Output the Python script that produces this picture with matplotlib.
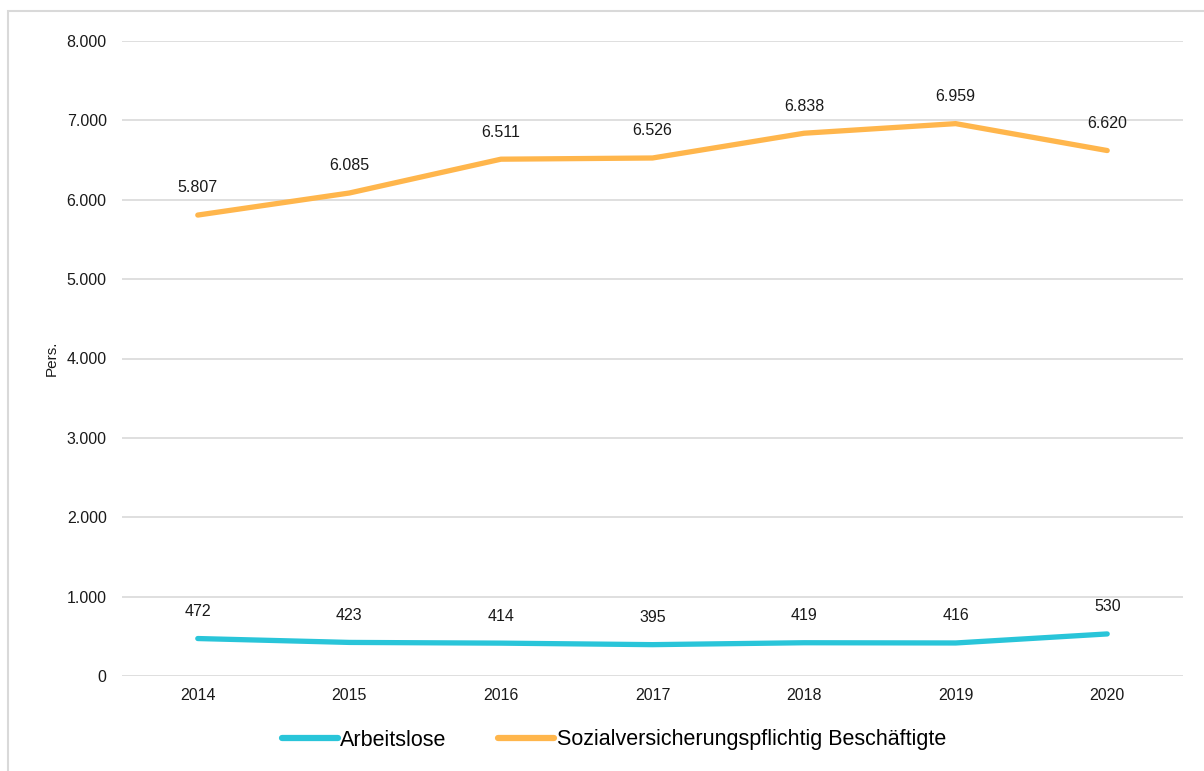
import matplotlib
matplotlib.use("Agg")
import matplotlib.pyplot as plt
from matplotlib.patches import Rectangle
from matplotlib.ticker import FuncFormatter

plt.rcParams['font.family'] = ['Liberation Sans', 'DejaVu Sans']

years = ["2014", "2015", "2016", "2017", "2018", "2019", "2020"]
arbeitslose = [472, 423, 414, 395, 419, 416, 530]
beschaeftigte = [5807, 6085, 6511, 6526, 6838, 6959, 6620]
series_names = ["Arbeitslose", "Sozialversicherungspflichtig Beschäftigte"]
colors = ["#29C5D9", "#FFB64C"]
y_ticks = [0, 1000, 2000, 3000, 4000, 5000, 6000, 7000, 8000]


def fmt(v):
    return f"{int(v):,}".replace(",", ".")


fig = plt.figure(figsize=(12.04, 7.71), dpi=100)
ax = fig.add_axes([122/1204, 1-676/771, (1183-122)/1204, (676-41)/771])

x = list(range(len(years)))
for vals, name, col in zip([arbeitslose, beschaeftigte], series_names, colors):
    ax.plot(x, vals, color=col, lw=3.8, solid_capstyle='round', label=name, zorder=3)
    for xi, v in zip(x, vals):
        ax.annotate(fmt(v), (xi, v), xytext=(0, 19.5), textcoords='offset points',
                    ha='center', va='center', fontsize=11.5, color='#1a1a1a')

ax.set_xlim(-0.5, len(years) - 0.5)
ax.set_ylim(0, 8000)
ax.set_yticks(y_ticks)
ax.yaxis.set_major_formatter(FuncFormatter(lambda v, p: fmt(v)))
ax.set_xticks(x)
ax.set_xticklabels(years)
ax.tick_params(axis='both', length=0, labelsize=11.5, colors='#1a1a1a')
ax.tick_params(axis='y', pad=11)
ax.tick_params(axis='x', pad=9)
ax.grid(axis='y', color='#D9D9D9', lw=1.2)
ax.set_axisbelow(True)
for s in ax.spines.values():
    s.set_visible(False)

fig.text(52/1204, 1-358/771, "Pers.", rotation=90, ha='center', va='center',
         fontsize=11, color='#1a1a1a')

leg = fig.legend(loc='center', bbox_to_anchor=(614/1204, 1-740/771), ncol=2,
                 frameon=False, fontsize=15.5, handlelength=2.6, columnspacing=2.4,
                 handletextpad=0.1)
for line in leg.get_lines():
    line.set_linewidth(4.5)
    line.set_solid_capstyle('round')

fig.patches.append(Rectangle((8/1204, -0.05), 1.2, 1 - 11/771 + 0.05,
                             transform=fig.transFigure, fill=False,
                             edgecolor='#D9D9D9', lw=1.5))

fig.savefig("out.png", dpi=100, facecolor='white')
